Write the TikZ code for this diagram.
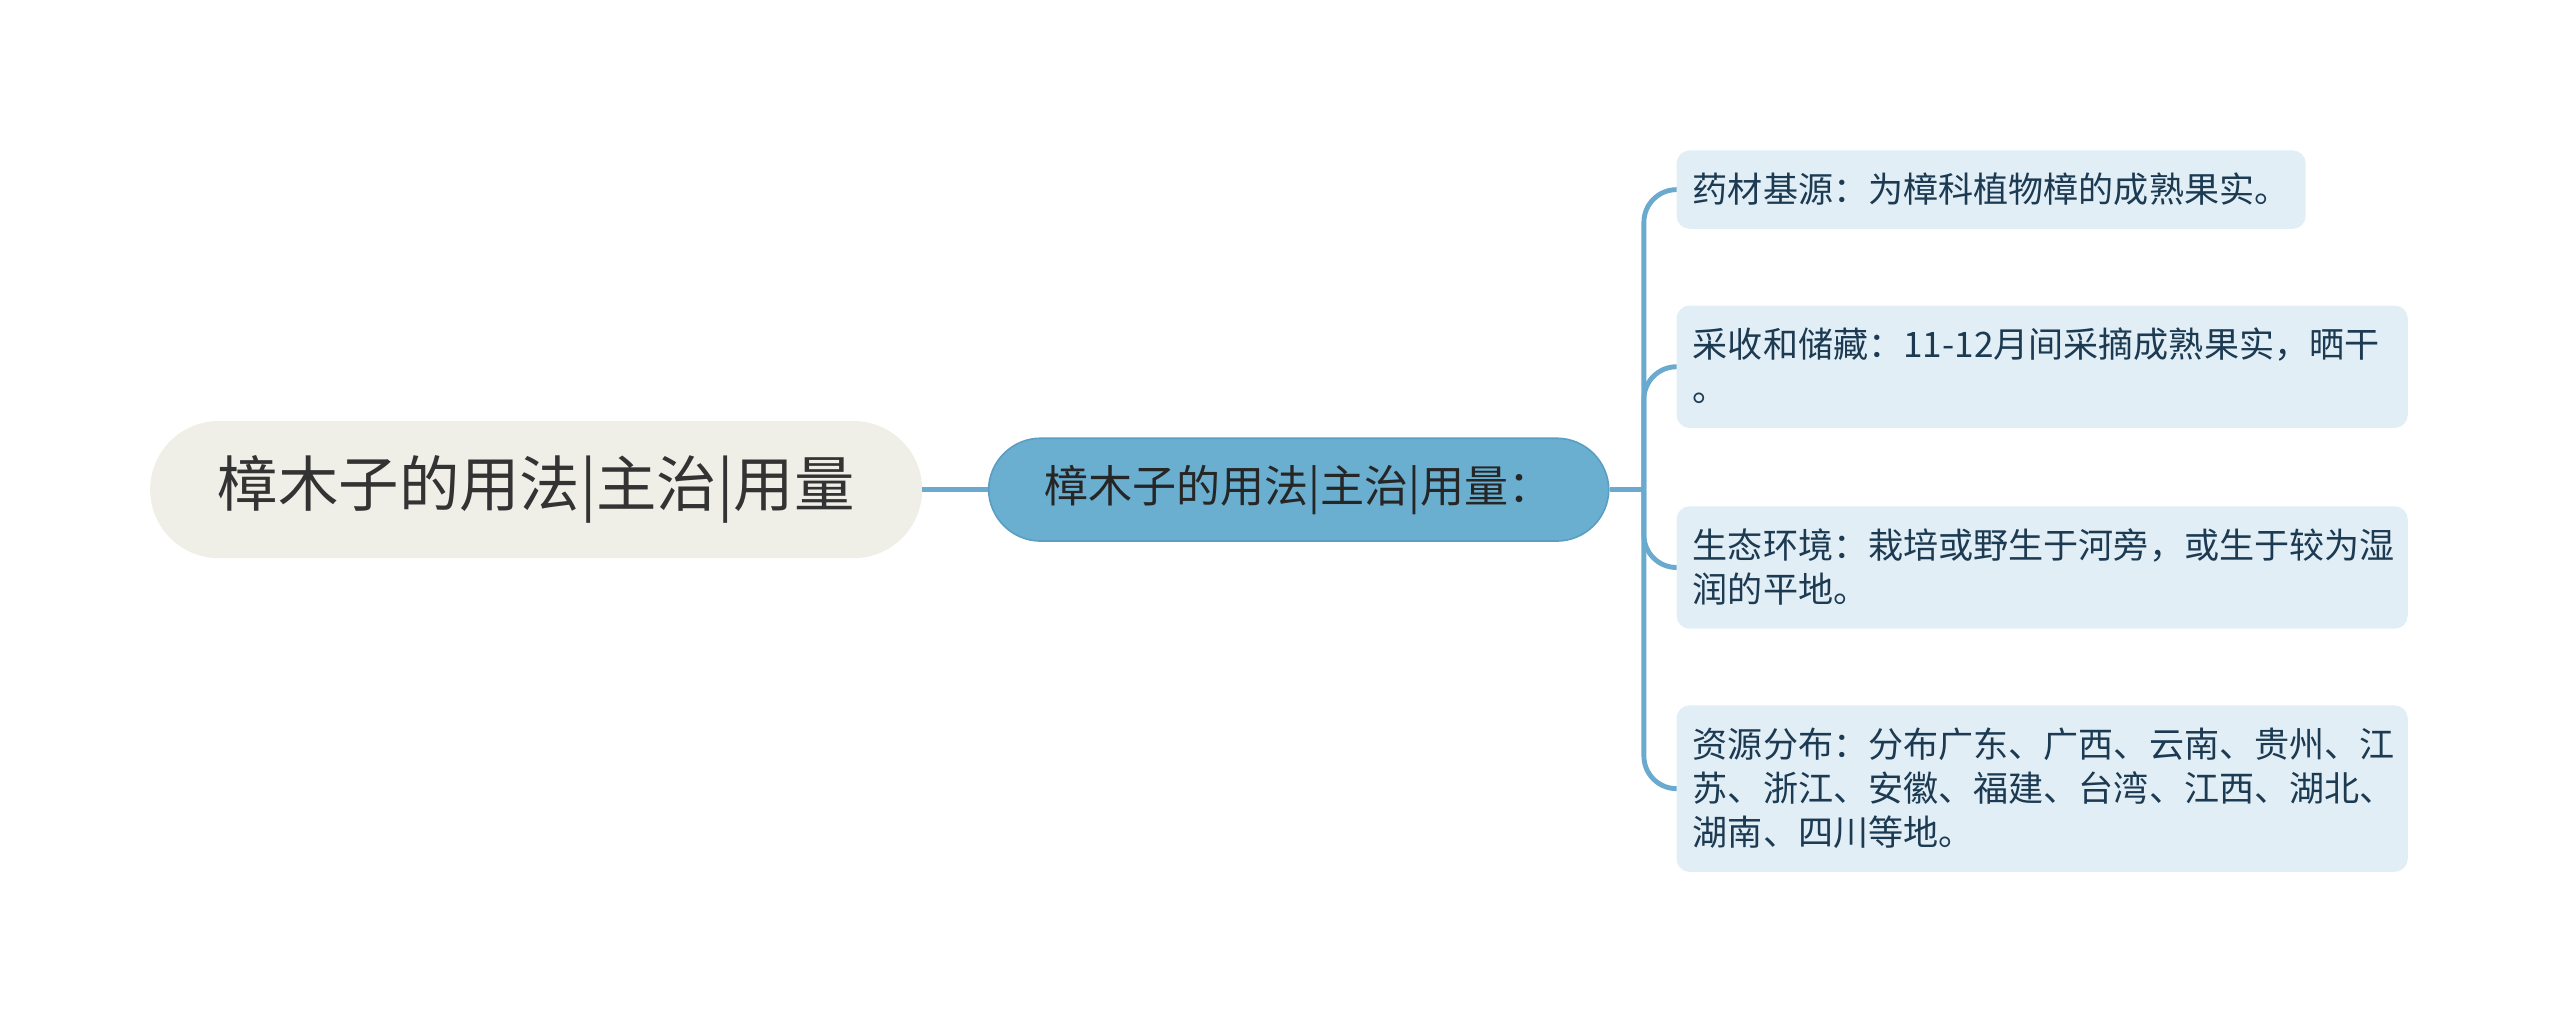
\documentclass[tikz,border=0pt]{standalone}
\usepackage{fontspec}
\newfontfamily\cjk{Noto Sans CJK SC}
\usepackage{tikz}
\usetikzlibrary{positioning}
\definecolor{rootfill}{RGB}{239,239,232}
\definecolor{topicfill}{RGB}{107,175,208}
\definecolor{topicline}{RGB}{92,158,194}
\definecolor{leaffill}{RGB}{225,238,246}
\definecolor{leaftext}{RGB}{28,58,82}
\definecolor{linkblue}{RGB}{106,170,206}
\newcommand{\lstrut}{\rule[-5.5pt]{0pt}{27pt}}

\begin{document}
\begin{tikzpicture}[x=1pt, y=-1pt,
            root/.style={rectangle, rounded corners=42pt, fill=rootfill, minimum width=473pt, minimum height=84pt, inner sep=0pt, text=black!80, font=\cjk\fontsize{37}{40}\selectfont},
            topic/.style={rectangle, rounded corners=32pt, fill=topicfill, draw=topicline, line width=1pt, minimum width=380pt, minimum height=63pt, inner sep=0pt, text=black!85, font=\cjk\fontsize{27}{30}\selectfont},
            leaf/.style={rectangle, rounded corners=8pt, fill=leaffill, text=leaftext, align=left, inner xsep=10pt, inner ysep=10.5pt, anchor=north west, font=\cjk\fontsize{21.5}{27}\selectfont},
            wide/.style={text width=428pt},
            link/.style={draw=linkblue, line width=3pt}
        ]
        \useasboundingbox (0,0) rectangle (1568.5,628);
        % Central topic
        \node[root] (root) at (328.5,300) {樟木子的用法|主治|用量};
        \node[topic, right=40pt of root] (topic) {樟木子的用法|主治|用量：};
        % Leaves
        \node[leaf] (source) at (1027,92) {\lstrut 药材基源：为樟科植物樟的成熟果实。\lstrut};
        \node[leaf, wide] (harvest) at (1027,187) {\lstrut 采收和储藏：11-12月间采摘成熟果实，晒干\\。\lstrut};
        \node[leaf, wide] (habitat) at (1027,310) {\lstrut 生态环境：栽培或野生于河旁，或生于较为湿\\润的平地。\lstrut};
        \node[leaf, wide] (range) at (1027,432) {\lstrut 资源分布：分布广东、广西、云南、贵州、江\\苏、浙江、安徽、福建、台湾、江西、湖北、\\湖南、四川等地。\lstrut};
        % Links
        \draw[link] (root) -- (topic);
        \draw[link] (topic.east) -- ++(21,0) coordinate (hub);
        \foreach \leaf in {source,harvest,habitat,range}
            \draw[link, rounded corners=20pt] (hub) |- (\leaf.west);
    \end{tikzpicture}
\end{document}
